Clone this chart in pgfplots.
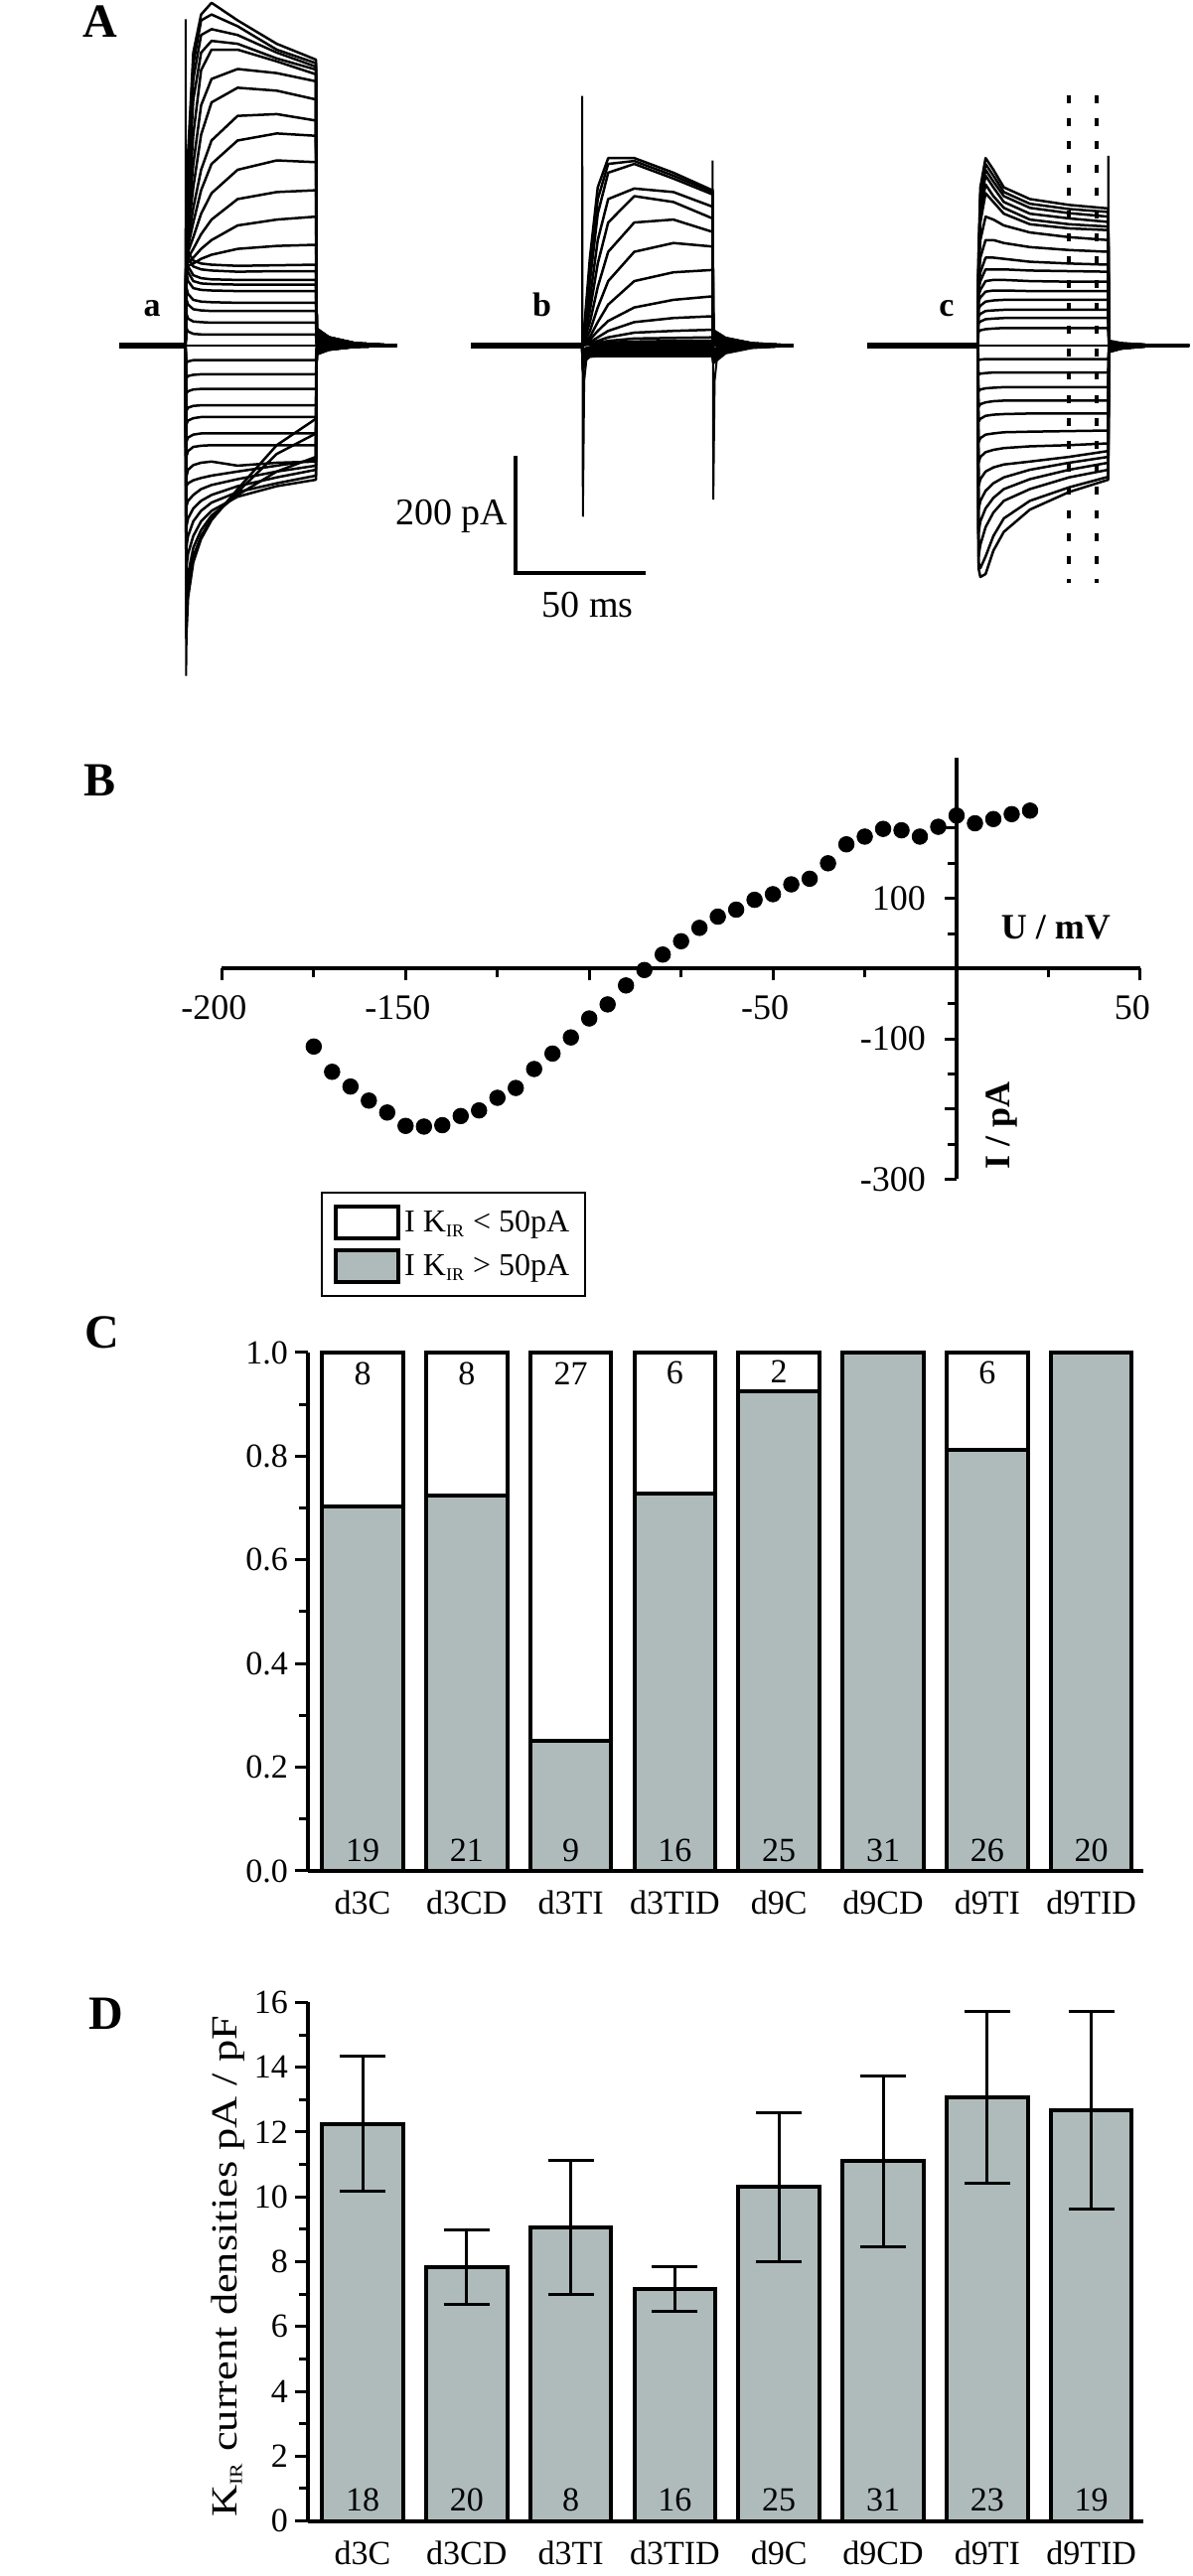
\documentclass[border=0pt]{standalone}
\usepackage{fontspec}
\setmainfont{Liberation Serif}
\newfontfamily\widefont{Liberation Serif}[FakeStretch=1.2]
\usepackage{pgfplots}
\usepackage{pgfplotstable}
\pgfplotsset{compat=1.18}
\definecolor{kgray}{RGB}{174,187,186}
\newcommand\fs[1]{\fontsize{#1}{#1}\selectfont}
\newcommand\sub[1]{\textsubscript{\fontsize{9}{9}\selectfont #1}}

% ---- Panel A traces: one row per trace, columns = time (ms) ----
\pgfplotstableread{
id 0 0.3 1 3 6 10 20 35 50 50.3 55 65 81
a1 0 190 330 500 565 585 555 515 488 29 14 4 0
a2 0 190 310 480 555 565 545 505 482 29 14 4 0
a3 0 185 290 455 530 540 530 500 476 29 14 4 0
a4 0 180 260 420 500 520 515 490 471 28 14 4 0
a5 0 175 230 360 470 505 505 485 463 28 14 4 0
a6 0 170 210 310 410 455 472 465 451 27 13 4 0
a7 0 165 195 270 360 415 440 435 420 25 12 4 0
a8 0 160 180 235 300 350 392 395 384 23 11 3 0
a9 0 155 170 210 265 310 350 362 358 21 10 3 0
a10 0 150 160 185 225 260 300 316 313 19 9 3 0
a11 0 145 150 165 190 215 250 262 265 16 8 2 0
a12 0 140 142 150 165 180 205 215 220 13 6 2 0
a13 0 135 136 140 148 155 165 170 172 10 5 2 0
a14 0 175 160 145 140 138 136 137 138 8 4 1 0
a15 0 165 150 135 130 128 126 127 127 8 4 1 0
a16 0 150 135 120 115 113 112 112 112 7 3 1 0
a17 0 140 125 110 106 105 104 104 104 6 3 1 0
a18 0 125 110 98 95 94 93 93 93 6 3 1 0
a19 0 100 88 78 75 74 73 73 73 4 2 1 0
a20 0 80 70 62 60 59 59 59 59 4 2 1 0
a21 0 55 46 41 40 39 39 39 39 2 1 0 0
a22 0 30 24 20 19 19 19 19 19 1 1 0 0
a23 0 0 0 0 0 0 0 0 0 0 0 0 0
a24 0 -30 -27 -25 -25 -25 -25 -25 -25 -2 -1 0 0
a25 0 -56 -52 -50 -49 -49 -49 -49 -49 -3 -2 0 0
a26 0 -82 -78 -75 -74 -74 -74 -74 -74 -5 -2 -1 0
a27 0 -112 -106 -103 -102 -102 -102 -102 -102 -7 -3 -1 0
a28 0 -135 -128 -124 -122 -122 -122 -122 -122 -8 -4 -1 0
a29 0 -165 -157 -152 -150 -150 -150 -150 -150 -10 -5 -1 0
a30 0 -190 -180 -173 -171 -170 -170 -170 -170 -11 -5 -2 0
a31 0 -225 -212 -204 -200 -198 -205 -200 -198 -13 -6 -2 0
a32 0 -240 -235 -230 -226 -222 -215 -205 -195 -13 -6 -2 0
a33 0 -275 -265 -255 -245 -238 -228 -215 -205 -14 -7 -2 0
a34 0 -310 -295 -278 -265 -255 -240 -225 -212 -14 -7 -2 0
a35 0 -345 -325 -300 -282 -268 -250 -235 -222 -15 -7 -2 0
a36 0 -380 -355 -325 -300 -282 -258 -240 -229 -15 -7 -2 0
a37 0 -420 -390 -345 -315 -290 -255 -215 -190 -13 -6 -2 0
a38 0 -460 -410 -360 -325 -295 -250 -185 -150 -10 -5 -2 0
a39 0 -500 -430 -370 -330 -298 -245 -170 -125 -8 -4 -1 0
}\rawA
\pgfplotstabletranspose[colnames from=id]{\TA}{\rawA}

\pgfplotstableread{
id 0 0.3 1 3 6 10 20 35 50 50.3 55 65 81
b1 0 10 40 150 270 320 320 295 265 26 13 4 0
b2 0 10 35 130 250 310 315 290 262 26 13 4 0
b3 0 10 30 110 225 295 310 285 258 25 12 4 0
b4 0 8 20 80 180 250 268 262 237 23 11 3 0
b5 0 8 15 60 140 210 255 245 217 21 10 3 0
b6 0 6 12 40 100 160 210 215 194 19 9 3 0
b7 0 5 8 25 65 110 160 175 169 16 8 2 0
b8 0 4 6 15 40 70 110 125 129 12 6 2 0
b9 0 3 4 10 25 42 65 78 84 8 4 1 0
b10 0 2 3 6 14 25 40 47 50 5 2 1 0
b11 0 2 2 4 8 14 22 25 27 3 1 0 0
b12 0 1 1 3 5 8 12 13 14 1 1 0 0
b13 0 1 1 2 3 5 7 8 8 1 0 0 0
b14 0 20 10 6 5 5 5 5 5 -5 -2 -1 0
b15 0 15 6 3 2 2 2 2 2 -8 -4 -1 0
b16 0 10 3 1 0 0 0 0 0 -10 -5 -1 0
b17 0 -10 -5 -3 -2 -2 -2 -2 -2 -12 -6 -2 0
b18 0 -15 -8 -5 -4 -4 -4 -4 -4 -15 -7 -2 0
b19 0 -20 -10 -7 -6 -6 -6 -6 -6 -18 -8 -2 0
b20 0 -25 -13 -9 -8 -8 -8 -8 -8 -20 -9 -3 0
b21 0 -30 -16 -11 -10 -10 -10 -10 -10 -22 -10 -3 0
b22 0 -35 -18 -13 -12 -12 -12 -12 -12 -25 -11 -3 0
b23 0 -40 -22 -16 -15 -15 -15 -15 -15 -28 -12 -3 0
b24 0 -45 -26 -19 -18 -18 -18 -18 -18 -30 -13 -4 0
}\rawB
\pgfplotstabletranspose[colnames from=id]{\TB}{\rawB}

\pgfplotstableread{
id 0 0.3 1 3 6 10 20 35 50 50.3 55 65 81
c1 0 150 270 320 300 270 250 240 234 8 4 1 0
c2 0 150 260 310 290 262 242 233 228 8 4 1 0
c3 0 140 250 300 280 255 235 226 220 7 3 1 0
c4 0 140 240 290 270 245 225 217 211 7 3 1 0
c5 0 130 225 275 255 235 215 207 203 6 3 1 0
c6 0 130 210 260 245 225 207 200 197 6 3 1 0
c7 0 120 180 220 215 205 193 185 180 5 2 1 0
c8 0 110 150 180 180 175 168 163 160 5 2 1 0
c9 0 100 125 150 150 148 143 140 138 4 2 1 0
c10 0 95 110 130 130 130 128 127 126 4 2 1 0
c11 0 85 95 110 112 112 110 109 109 3 1 0 0
c12 0 75 82 92 94 94 93 93 93 3 1 0 0
c13 0 62 68 75 77 78 78 78 78 2 1 0 0
c14 0 50 54 59 60 61 61 61 61 2 1 0 0
c15 0 38 41 45 46 47 47 47 47 1 0 0 0
c16 0 24 26 28 29 30 30 30 30 1 0 0 0
c17 0 0 0 0 0 0 0 0 0 0 0 0 0
c18 0 -25 -24 -23 -23 -23 -23 -23 -23 -2 -1 0 0
c19 0 -50 -48 -47 -46 -46 -46 -46 -46 -3 -1 0 0
c20 0 -78 -75 -73 -72 -71 -71 -71 -71 -4 -2 0 0
c21 0 -105 -100 -97 -95 -94 -94 -94 -94 -5 -2 -1 0
c22 0 -130 -125 -120 -118 -117 -116 -116 -116 -6 -3 -1 0
c23 0 -165 -158 -152 -150 -148 -147 -146 -145 -7 -3 -1 0
c24 0 -200 -190 -182 -178 -175 -172 -170 -167 -8 -4 -1 0
c25 0 -240 -228 -215 -208 -203 -198 -190 -180 -9 -4 -1 0
c26 0 -280 -265 -248 -235 -225 -212 -200 -190 -9 -4 -1 0
c27 0 -320 -300 -278 -260 -245 -228 -212 -200 -10 -5 -1 0
c28 0 -360 -340 -310 -285 -265 -245 -225 -212 -10 -5 -1 0
c29 0 -370 -380 -360 -325 -295 -265 -242 -224 -11 -5 -1 0
c30 0 -380 -395 -390 -350 -318 -280 -250 -229 -11 -5 -1 0
}\rawC
\pgfplotstabletranspose[colnames from=id]{\TC}{\rawC}

\pgfplotsset{
  trace/.style={hide axis, clip=false, x=1.313pt, y=0.295pt, ymin=-600, ymax=600, anchor=origin},
  tr/.style={black, line width=1.25pt, line join=round, mark=none},
}

\begin{document}
\begin{tikzpicture}
\path[use as bounding box] (0,0) rectangle (600pt,1297pt);

% panel letters
\node[font=\fs{24}\bfseries, anchor=base] at (50.5pt,1278pt) {A};
\node[font=\fs{24}\bfseries, anchor=base] at (50.5pt,896pt) {B};
\node[font=\fs{24}\bfseries, anchor=base] at (51.5pt,618pt) {C};
\node[font=\fs{24}\bfseries, anchor=base] at (53.5pt,275pt) {D};
% trace labels
\node[font=\fs{17}\bfseries, anchor=base] at (76.5pt,1137.5pt) {a};
\node[font=\fs{17}\bfseries, anchor=base] at (272.75pt,1137.5pt) {b};
\node[font=\fs{17}\bfseries, anchor=base] at (476.5pt,1137.5pt) {c};

% ---------- A: trace a ----------
\begin{axis}[trace, xmin=-26, xmax=82, at={(93.35pt,1123pt)}]
\addplot[black, line width=3pt] coordinates {(-25.3,0) (0,0)};
\pgfplotsinvokeforeach{1,...,39}{\addplot[tr] table[x=colnames,y=a#1]{\TA};}
\addplot[black, line width=1pt] coordinates {(0,0) (0.05,557) (0.25,-564) (0.6,-440)};
\end{axis}

% ---------- A: trace b ----------
\begin{axis}[trace, xmin=-45, xmax=82, at={(293pt,1123pt)}]
\addplot[black, line width=3pt] coordinates {(-42.7,0) (0,0)};
\pgfplotsinvokeforeach{1,...,24}{\addplot[tr] table[x=colnames,y=b#1]{\TB};}
\addplot[black, line width=1pt] coordinates {(0,0) (0.05,426) (0.3,-292) (0.8,-60) (2,-10) (4,0)};
\addplot[black, line width=1pt] coordinates {(50,0) (50.05,316) (50.3,-263) (50.8,-60) (52,-10) (54,0)};
% scale bar
\addplot[black, line width=2pt] coordinates {(-25.5,-188) (-25.5,-388) (24.5,-388)};
\node[font=\fs{19}, anchor=east, inner sep=1pt] at (axis cs:-27.5,-292) {200 pA};
\node[font=\fs{19}] at (axis cs:2.1,-442) {50 ms};
\end{axis}

% ---------- A: trace c ----------
\begin{axis}[trace, xmin=-45, xmax=82, at={(492.15pt,1123pt)}]
\addplot[black, line width=3pt] coordinates {(-42.3,0) (0,0)};
\pgfplotsinvokeforeach{1,...,30}{\addplot[tr] table[x=colnames,y=c#1]{\TC};}
\addplot[black, line width=1pt] coordinates {(50,234) (50.05,324) (50.25,0)};
\addplot[black, line width=2pt, dash pattern=on 4pt off 7.6pt] coordinates {(34.8,427) (34.8,-405)};
\addplot[black, line width=2pt, dash pattern=on 4pt off 7.6pt] coordinates {(45.7,427) (45.7,-405)};
\end{axis}

% ---------- B: I-V curve ----------
\begin{axis}[at={(481.5pt,809.3pt)}, anchor=origin,
  x=1.849pt, y=0.3535pt, xmin=-200, xmax=50, ymin=-300, ymax=300,
  axis lines*=middle, axis line style={line width=2pt},
  tick align=outside, major tick length=6pt, minor tick length=4.5pt,
  every tick/.style={black, line width=1.5pt},
  xtick={-200,-150,-100,-50,0,50}, xticklabels={-200,-150,,-50,,50}, minor x tick num=1,
  ytick={-300,-200,-100,0,100,200}, yticklabels={-300,,-100,,100,}, minor y tick num=1,
  ticklabel style={font=\fs{18}},
  xticklabel style={xshift=-4pt, yshift=-4pt},
  yticklabel style={xshift=-6pt},
  clip=false]
\addplot[only marks, mark=*, mark size=3.9pt, black] coordinates {
(-175,-111) (-170,-147) (-165,-168) (-160,-188) (-155,-205) (-150,-224) (-145,-225) (-140,-223)
(-135,-210) (-130,-202) (-125,-184) (-120,-170) (-115,-143) (-110,-121) (-105,-98) (-100,-71)
(-95,-51) (-90,-24) (-85,-2) (-80,20) (-75,39) (-70,58) (-65,74) (-60,84) (-55,98) (-50,106)
(-45,120) (-40,128) (-35,150) (-30,177) (-25,188) (-20,199) (-15,197) (-10,188) (-5,202)
(0,218) (5,207) (10,213) (15,220) (20,225)};
\node[font=\fs{18}\bfseries] at (axis cs:27,58.6) {U / mV};
\node[font=\fs{18}\bfseries, rotate=90] at (axis cs:12.2,-224.3) {I / pA};
\end{axis}

% ---------- C: fractions ----------
\begin{axis}[at={(155pt,355pt)}, anchor=south west, scale only axis,
  width=420.5pt, height=261pt, xmin=-0.525, xmax=7.5, ymin=0, ymax=1,
  ybar, bar width=0.78, bar shift=0pt,
  axis x line*=bottom, axis y line*=left, axis line style={line width=2pt},
  xtick={0,...,7}, xticklabels={d3C,d3CD,d3TI,d3TID,d9C,d9CD,d9TI,d9TID},
  xtick style={draw=none},
  ytick={0,0.2,0.4,0.6,0.8,1}, yticklabels={0.0,0.2,0.4,0.6,0.8,1.0}, minor y tick num=1,
  tick align=outside, major tick length=6.5pt, minor tick length=4.5pt,
  ytick style={black, line width=1.5pt},
  ticklabel style={font=\fs{17}},
  legend image code/.code={\draw[#1, draw=black, line width=2pt] (0pt,-8pt) rectangle (31.5pt,8pt);},
  legend style={at={(0.0155,1.3103)}, anchor=north west, draw=black, line width=1.2pt,
    font=\fs{16}, inner xsep=6pt, inner ysep=6pt, row sep=4pt, cells={anchor=west}},
  clip=false]
% white: all cells (total = 1); grey: fraction with I K_IR > 50 pA
\addplot[fill=white, draw=black, line width=2pt] coordinates {
(0,1) (1,1) (2,1) (3,1) (4,1) (5,1) (6,1) (7,1)};
\addlegendentry{I K\sub{IR} < 50pA}
\addplot[fill=kgray, draw=black, line width=2pt] coordinates {
(0,0.7037) (1,0.7241) (2,0.25) (3,0.7273) (4,0.9259) (5,1) (6,0.8125) (7,1)};
\addlegendentry{I K\sub{IR} > 50pA}
\node[font=\fs{17}] at (axis cs:0,0.96) {8};
\node[font=\fs{17}] at (axis cs:1,0.96) {8};
\node[font=\fs{17}] at (axis cs:2,0.96) {27};
\node[font=\fs{17}] at (axis cs:3,0.96) {6};
\node[font=\fs{17}] at (axis cs:4,0.963) {2};
\node[font=\fs{17}] at (axis cs:6,0.96) {6};
\node[font=\fs{17}] at (axis cs:0,0.04) {19};
\node[font=\fs{17}] at (axis cs:1,0.04) {21};
\node[font=\fs{17}] at (axis cs:2,0.04) {9};
\node[font=\fs{17}] at (axis cs:3,0.04) {16};
\node[font=\fs{17}] at (axis cs:4,0.04) {25};
\node[font=\fs{17}] at (axis cs:5,0.04) {31};
\node[font=\fs{17}] at (axis cs:6,0.04) {26};
\node[font=\fs{17}] at (axis cs:7,0.04) {20};
\end{axis}

% ---------- D: current densities ----------
\begin{axis}[at={(155pt,27.75pt)}, anchor=south west, scale only axis,
  width=420.5pt, height=261pt, xmin=-0.525, xmax=7.5, ymin=0, ymax=16,
  ybar, bar width=0.78,
  axis x line*=bottom, axis y line*=left, axis line style={line width=2pt},
  xtick={0,...,7}, xticklabels={d3C,d3CD,d3TI,d3TID,d9C,d9CD,d9TI,d9TID},
  xtick style={draw=none},
  ytick={0,2,...,16}, yticklabels={0,2,4,6,8,10,12,14,16}, minor y tick num=1,
  tick align=outside, major tick length=6.5pt, minor tick length=4.5pt,
  ytick style={black, line width=1.5pt},
  ticklabel style={font=\fs{17}},
  clip=false]
\addplot[fill=kgray, draw=black, line width=2pt,
  error bars/.cd, y dir=both, y explicit,
  error bar style={black, line width=1.5pt},
  error mark options={black, rotate=90, mark size=11.5pt, line width=1.5pt}] coordinates {
(0,12.25) +- (0,2.08)
(1,7.84) +- (0,1.15)
(2,9.06) +- (0,2.07)
(3,7.17) +- (0,0.69)
(4,10.30) +- (0,2.31)
(5,11.10) +- (0,2.63)
(6,13.08) +- (0,2.65)
(7,12.68) +- (0,3.05)};
\node[font=\fs{17}] at (axis cs:0,0.64) {18};
\node[font=\fs{17}] at (axis cs:1,0.64) {20};
\node[font=\fs{17}] at (axis cs:2,0.64) {8};
\node[font=\fs{17}] at (axis cs:3,0.64) {16};
\node[font=\fs{17}] at (axis cs:4,0.64) {25};
\node[font=\fs{17}] at (axis cs:5,0.64) {31};
\node[font=\fs{17}] at (axis cs:6,0.64) {23};
\node[font=\fs{17}] at (axis cs:7,0.64) {19};
\node[font=\widefont\fs{18.5}, rotate=90] at (axis description cs:-0.0957,0.491) {K\sub{IR} current densities pA / pF};
\end{axis}
\end{tikzpicture}
\end{document}
